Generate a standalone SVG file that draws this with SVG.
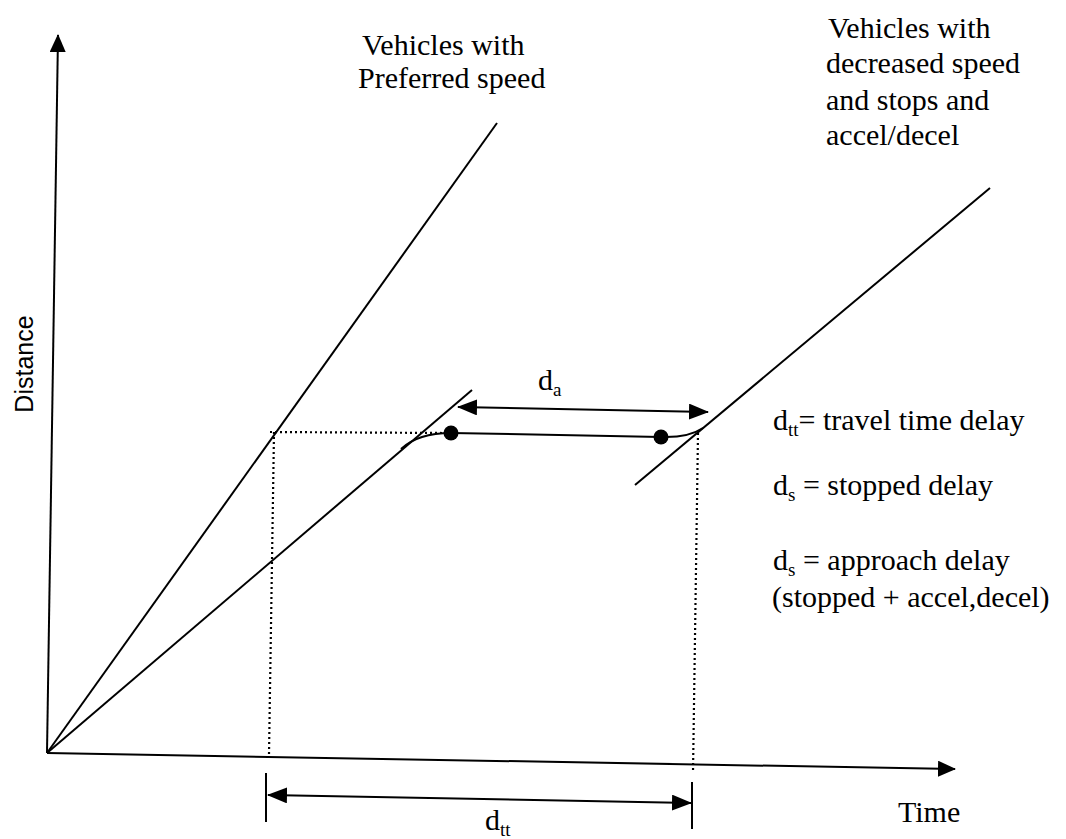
<svg xmlns="http://www.w3.org/2000/svg" width="1066" height="839" viewBox="0 0 1066 839">
<style>
.ln{stroke:#000;stroke-width:2;fill:none}
.dot{stroke:#000;stroke-width:2.2;stroke-dasharray:2 3;fill:none}
.t{font-family:"Liberation Serif","Times New Roman",serif;font-size:30px;fill:#000}
.sub{font-size:19px}
.s{font-family:"Liberation Sans",Arial,sans-serif;font-size:25px;fill:#000}
</style>
<defs>
<marker id="ah" markerUnits="userSpaceOnUse" markerWidth="20" markerHeight="16" refX="19" refY="8" orient="auto-start-reverse">
<path d="M0,0 L20,8 L0,16 z" fill="#000"/>
</marker>
<marker id="axh" markerUnits="userSpaceOnUse" markerWidth="18" markerHeight="16" refX="17" refY="8" orient="auto">
<path d="M0,0 L18,8 L0,16 z" fill="#000"/>
</marker>
</defs>
<rect width="1066" height="839" fill="#fff"/>
<g id="connectors">
<line class="ln" x1="47" y1="753" x2="58" y2="35" marker-end="url(#axh)"/>
<line class="ln" x1="47" y1="753" x2="955" y2="769" marker-end="url(#axh)"/>
<line class="ln" x1="47" y1="753" x2="497" y2="123"/>
<line class="ln" x1="47" y1="753" x2="472" y2="390"/>
<path class="ln" d="M401 449 Q418 433 451 433"/>
<line class="ln" x1="451" y1="433" x2="661" y2="437"/>
<path class="ln" d="M661 437 Q688 438 703 428"/>
<line class="ln" x1="635" y1="485" x2="990" y2="188"/>
<circle cx="451" cy="433" r="7.5" fill="#000"/>
<circle cx="661" cy="437" r="7.5" fill="#000"/>
<line class="dot" x1="270" y1="432" x2="445" y2="433"/>
<line class="dot" x1="274" y1="432" x2="269" y2="754"/>
<line class="dot" x1="698" y1="433" x2="693" y2="772"/>
<line class="ln" x1="458" y1="407" x2="708" y2="412" marker-start="url(#ah)" marker-end="url(#ah)"/>
<line class="ln" x1="266" y1="773" x2="266" y2="822"/>
<line class="ln" x1="692" y1="782" x2="692" y2="829"/>
<line class="ln" x1="268" y1="795" x2="691" y2="803" marker-start="url(#ah)" marker-end="url(#ah)"/>
</g>
<g id="label-preferred">
<text class="t" x="362" y="55">Vehicles with</text>
<text class="t" x="358" y="88">Preferred speed</text>
</g>
<g id="label-decreased">
<text class="t" x="828" y="38">Vehicles with</text>
<text class="t" x="826" y="73">decreased speed</text>
<text class="t" x="826" y="110">and stops and</text>
<text class="t" x="826" y="145">accel/decel</text>
</g>
<g id="label-da">
<text class="t" x="538" y="390">d<tspan class="sub" dy="6">a</tspan></text>
</g>
<g id="legend">
<text class="t" x="773" y="430">d<tspan class="sub" dy="6">tt</tspan><tspan dy="-6">= travel time delay</tspan></text>
<text class="t" x="773" y="495">d<tspan class="sub" dy="6">s</tspan><tspan dy="-6"> = stopped delay</tspan></text>
<text class="t" x="773" y="570">d<tspan class="sub" dy="6">s</tspan><tspan dy="-6"> = approach delay</tspan></text>
<text class="t" x="772" y="607">(stopped + accel,decel)</text>
</g>
<g id="label-dtt">
<text class="t" x="485" y="830">d<tspan class="sub" dy="6">tt</tspan></text>
</g>
<g id="label-time">
<text class="t" x="898" y="822">Time</text>
</g>
<g id="label-distance">
<text class="s" transform="translate(33,364) rotate(-90)" text-anchor="middle">Distance</text>
</g>
</svg>
